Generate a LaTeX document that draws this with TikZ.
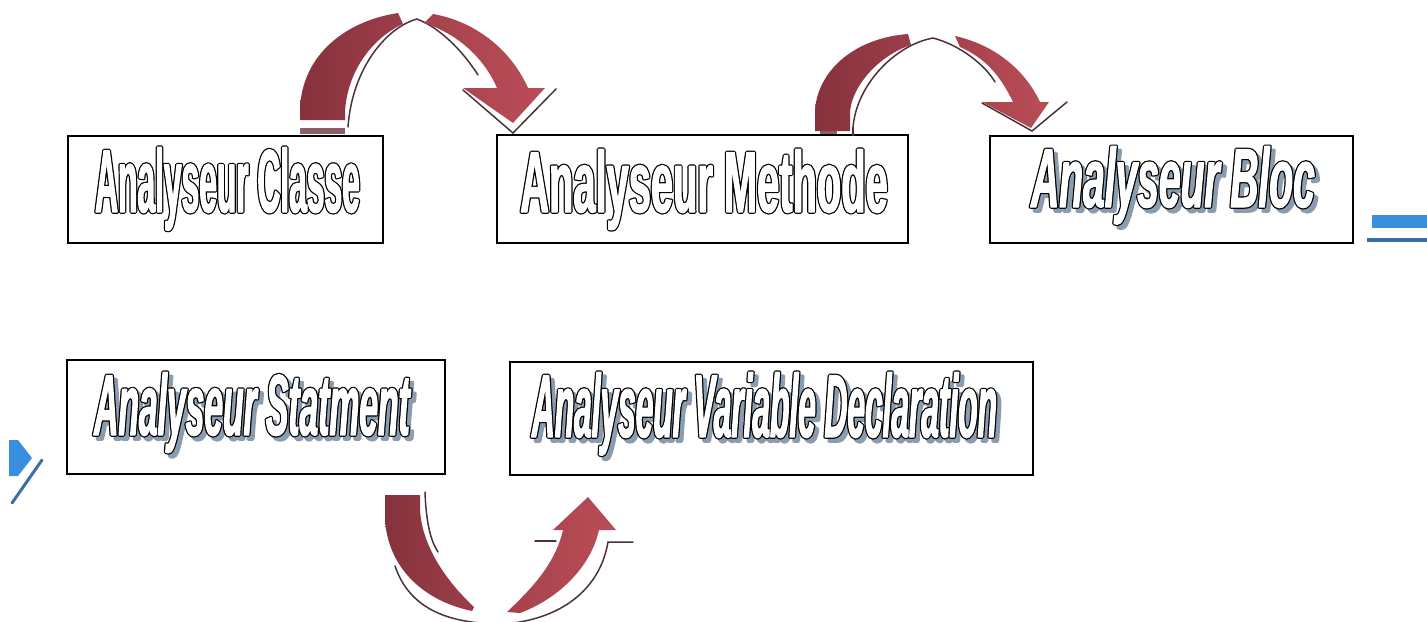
\documentclass[tikz,border=0pt]{standalone}
\usepackage{fontspec}
\setmainfont{Liberation Sans}
\usetikzlibrary{calc}

\definecolor{banddark}{HTML}{86323D}
\definecolor{bandmid}{HTML}{9C3E49}
\definecolor{headdark}{HTML}{A6424C}
\definecolor{bandlight}{HTML}{B94D56}
\definecolor{bandshadow}{HTML}{4C3238}
\definecolor{basemauve}{HTML}{8C5E68}
\definecolor{txtshadow}{HTML}{8A9DB0}
\definecolor{blueface}{HTML}{3A8EDF}
\definecolor{blueedge}{HTML}{3C6FA8}

% condensed faces, one per stage title
\newfontfamily\fclasse{Liberation Sans Bold}[FakeStretch=0.355]
\newfontfamily\fmethode{Liberation Sans Bold}[FakeStretch=0.46]
\newfontfamily\fbloc{Liberation Sans Bold Italic}[FakeStretch=0.465]
\newfontfamily\fstat{Liberation Sans Bold Italic}[FakeStretch=0.388]
\newfontfamily\fvardecl{Liberation Sans Bold Italic}[FakeStretch=0.354]

% one drawing unit = 0.02cm
\newdimen\px \px=0.02cm

% glyphs widened by a stroke of the current colour
\newcommand\fattext[2]{%
  \special{pdf:literal direct 2 Tr #1 w 1 j}#2%
  \special{pdf:literal direct 0 Tr 0.4 w 0 j}}

% hollow heavy letters: black widened copy, white slightly widened copy on top
\newcommand\hollow[1]{%
  \rlap{\textcolor{black}{\fattext{2.0}{#1}}}%
  \textcolor{white}{\fattext{0.6}{#1}}}

% #1 horizontal shift, #2 baseline drop below centre, #3 font,
% #4 shadow flag, #5 text
\newcommand\boxlabel[5]{%
  \makebox[0pt]{\hspace*{#1\px}\hspace*{#1\px}%
    \raisebox{-#2\px}[0pt][0pt]{#3%
      \ifnum#4=1 \rlap{\kern2.3pt\raisebox{-2.3pt}{\textcolor{txtshadow}{\fattext{2.0}{#5}}}}\fi
      \hollow{#5}}}}

\tikzset{
  stagebox/.style={draw=black, line width=1pt, fill=white, inner sep=0pt},
  riseband/.style={left color=banddark, right color=bandmid, draw=none},
  headband/.style={left color=headdark, right color=bandlight, draw=none},
  shadowline/.style={draw=bandshadow, line width=0.85pt, line cap=round},
}

\begin{document}
\begin{tikzpicture}[x=0.02cm, y=-0.02cm]
\useasboundingbox (0,0) rectangle (1427,622);

% ---- stages -------------------------------------------------------------
\node[stagebox, minimum width=6.30cm, minimum height=2.14cm] (classe) at (225.5,189.5)
  {\boxlabel{2}{22.5}{\fclasse\fontsize{50.9pt}{56pt}\selectfont}{0}{Analyseur Classe}};
\node[stagebox, minimum width=8.22cm, minimum height=2.16cm] (methode) at (702.5,189)
  {\boxlabel{1.5}{23}{\fmethode\fontsize{49.3pt}{54pt}\selectfont}{0}{Analyseur Methode}};
\node[stagebox, minimum width=7.26cm, minimum height=2.14cm] (bloc) at (1171.5,189.5)
  {\boxlabel{1.5}{17.5}{\fbloc\fontsize{47.7pt}{52pt}\selectfont}{1}{Analyseur Bloc}};
\node[stagebox, minimum width=7.56cm, minimum height=2.28cm] (statment) at (256,417)
  {\boxlabel{-4}{18}{\fstat\fontsize{49.3pt}{54pt}\selectfont}{1}{Analyseur Statment}};
\node[stagebox, minimum width=10.46cm, minimum height=2.26cm] (vardecl) at (771.5,418.5)
  {\boxlabel{-7}{18.5}{\fvardecl\fontsize{50.9pt}{56pt}\selectfont}{1}{Analyseur Variable Declaration}};

% ---- curved arrow: Classe -> Methode ------------------------------------
\fill[basemauve] (300,128) rectangle (345,134);
\draw[shadowline] (348,127) .. controls (352,70) and (385,28) .. (417,19)
  .. controls (440,28) and (462,50) .. (478,75);
\draw[shadowline] (463,90) -- (513,133) -- (556,89);
\shade[riseband] (300,120) -- (300,112) .. controls (300,60) and (340,22) .. (398,13)
  -- (403,24) .. controls (372,38) and (347,72) .. (345,112) -- (345,120) -- cycle;
\shade[headband] (433,14) .. controls (478,22) and (512,52) .. (528,88) -- (545,88)
  -- (513,123) -- (463,88) -- (497,88) .. controls (484,58) and (458,34) .. (424,23) -- cycle;

% ---- curved arrow: Methode -> Bloc --------------------------------------
\fill[basemauve] (820,130) rectangle (837,134);
\draw[bandshadow, line width=0.8pt] (853,127) -- (853,136);
\draw[shadowline] (853,128) .. controls (856,85) and (895,45) .. (933,38)
  .. controls (960,45) and (985,65) .. (995,82);
\draw[shadowline] (982,103) -- (1032,131) -- (1067,102);
\shade[riseband] (815,131) -- (815,110) .. controls (818,70) and (855,38) .. (908,34)
  -- (911,45) .. controls (880,55) and (852,85) .. (850,112) -- (850,131) -- cycle;
\shade[headband] (955,36) .. controls (995,45) and (1025,70) .. (1040,102) -- (1049,102)
  -- (1031,128) -- (982,102) -- (1013,102) .. controls (1000,75) and (985,58) .. (960,47) -- cycle;

% ---- curved arrow: Statment -> Variable Declaration ---------------------
\draw[shadowline] (395,566) .. controls (410,610) and (450,624) .. (503,624)
  .. controls (560,620) and (600,590) .. (608,542) -- (633,542);
\draw[shadowline] (535,541) -- (556,541);
\draw[shadowline] (425,492) .. controls (426,520) and (430,540) .. (438,552);
\shade[riseband] (385,495) -- (385,520) .. controls (388,565) and (420,600) .. (472,611)
  -- (474,607) .. controls (445,580) and (422,545) .. (420,510) -- (420,495) -- cycle;
\shade[headband] (507,612) .. controls (530,590) and (555,565) .. (563,530) -- (553,530)
  -- (588,497) -- (616,530) -- (599,530) .. controls (590,570) and (555,600) .. (520,613) -- cycle;

% ---- blue wrap-around arrow, cut at the margins -------------------------
\fill[blueface] (1372,215) rectangle (1427,228);
\fill[blueedge] (1367,238) rectangle (1427,242);
\fill[blueface] (9,440) -- (18,440) -- (32,458) -- (18,476) -- (9,476) -- cycle;
\draw[blueedge, line width=3\px, line cap=round] (42,460) -- (12,503);
\end{tikzpicture}
\end{document}
